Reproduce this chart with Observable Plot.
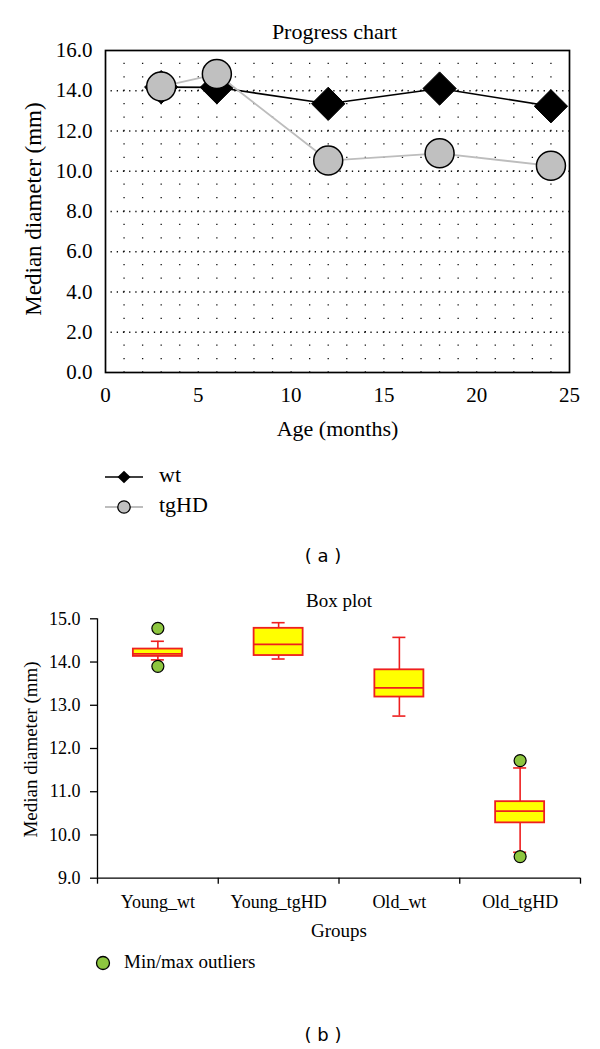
<!DOCTYPE html>
<html>
<head>
<meta charset="utf-8">
<script src="https://cdn.jsdelivr.net/npm/d3@7"></script>
<script src="https://cdn.jsdelivr.net/npm/@observablehq/plot@0.6"></script>
<style>
  html, body { margin: 0; padding: 0; background: #fff; overflow: hidden; }
  #page { position: relative; width: 600px; height: 1049px; background: #fff; overflow: hidden; }
  #page > svg, #page > figure { position: absolute; left: 0; margin: 0; }
</style>
</head>
<body>
<div id="page"></div>
<script>
// ---------- Data: (a) Progress chart ----------
const ages = [3, 6, 12, 18, 24];
const wtMedian = [14.18, 14.17, 13.35, 14.11, 13.23];
const tgHDMedian = [14.21, 14.83, 10.53, 10.89, 10.27];
const yTicksA = [0, 2, 4, 6, 8, 10, 12, 14, 16];
const xTicksA = [0, 5, 10, 15, 20, 25];
const seriesNames = ["wt", "tgHD"];

// ---------- Data: (b) Box plot ----------
const groups = ["Young_wt", "Young_tgHD", "Old_wt", "Old_tgHD"];
const whiskerLow = [14.05, 14.07, 12.75, 9.6];
const q1 = [14.13, 14.15, 13.19, 10.28];
const median = [14.19, 14.41, 13.40, 10.55];
const q3 = [14.30, 14.78, 13.82, 10.77];
const whiskerHigh = [14.48, 14.91, 14.57, 11.55];
const outlierGroups = ["Young_wt", "Young_wt", "Old_tgHD", "Old_tgHD"];
const outlierValues = [14.78, 13.90, 11.72, 9.50];
const yTicksB = [9, 10, 11, 12, 13, 14, 15];

const serif = '"Liberation Serif", "Times New Roman", serif';
const page = document.getElementById("page");

// ---------- Chart (a) ----------
const HA = 445, mtA = 50, mbA = 73;
const wtRows = ages.map((a, i) => ({age: a, value: wtMedian[i]}));
const tgRows = ages.map((a, i) => ({age: a, value: tgHDMedian[i]}));
const gridCols = d3.range(1, 25);
const majorRows = d3.range(2, 16, 2);
const rowPeriod = (HA - mtA - mbA) / 24;
const colPeriod = (600 - 105 - 31) / 25 / 3;

const chartA = Plot.plot({
  width: 600, height: HA,
  marginLeft: 105, marginRight: 31, marginTop: mtA, marginBottom: mbA,
  style: {fontFamily: serif, fontSize: "21px", color: "black", background: "transparent", overflow: "visible"},
  x: {domain: [0, 25]},
  y: {domain: [0, 16]},
  marks: [
    Plot.ruleX(gridCols, {x: d => d, y1: 0, y2: 16, stroke: "#111", strokeWidth: 1.3,
      strokeDasharray: `1.3 ${rowPeriod - 1.3}`, strokeDashoffset: 0.65}),
    Plot.ruleY(majorRows, {y: d => d, x1: 0, x2: 25, stroke: "#111", strokeWidth: 1.3,
      strokeDasharray: `1.3 ${colPeriod - 1.3}`, strokeDashoffset: 0.65}),
    Plot.frame({stroke: "black", strokeWidth: 1.7}),
    Plot.axisY({ticks: yTicksA, tickSize: 0, tickPadding: 13, tickFormat: d => d.toFixed(1), label: null, fontSize: 21}),
    Plot.axisX({ticks: xTicksA, tickSize: 0, tickPadding: 15, tickFormat: d => String(d), label: null, fontSize: 21}),
    Plot.line(wtRows, {x: "age", y: "value", stroke: "black", strokeWidth: 1.6}),
    Plot.dot(wtRows, {x: "age", y: "value", symbol: "diamond2", r: 15, fill: "black", stroke: "black", strokeWidth: 1}),
    Plot.line(tgRows, {x: "age", y: "value", stroke: "#bdbdbd", strokeWidth: 1.8}),
    Plot.dot(tgRows, {x: "age", y: "value", r: 14.5, fill: "#c0c0c0", stroke: "black", strokeWidth: 1.5}),
    Plot.text(["Progress chart"], {text: d => d, frameAnchor: "top", textAnchor: "middle", lineAnchor: "middle", dx: -3, dy: -18.4, fontSize: 22}),
    Plot.text(["Age (months)"], {text: d => d, frameAnchor: "bottom", textAnchor: "middle", lineAnchor: "middle", dy: 56.3, fontSize: 22}),
    Plot.text(["Median diameter (mm)"], {text: d => d, frameAnchor: "left", textAnchor: "middle", lineAnchor: "middle", rotate: -90, dx: -72, dy: -2.5, fontSize: 23})
  ]
});
chartA.style.top = "0px";
page.appendChild(chartA);

// ---------- Chart (b) ----------
const topB = 575, HB = 375;
const boxRows = groups.map((g, i) => ({
  group: g, pos: i + 0.5, lo: whiskerLow[i], q1: q1[i], med: median[i], q3: q3[i], hi: whiskerHigh[i]
}));
const outRows = outlierGroups.map((g, i) => ({pos: groups.indexOf(g) + 0.5, value: outlierValues[i]}));
const boxHalf = 0.203, capHalf = 0.054;
const red = "#ee1f1f";

const chartB = Plot.plot({
  width: 600, height: HB,
  marginLeft: 97, marginRight: 20, marginTop: 618.3 - topB, marginBottom: topB + HB - 877.7,
  style: {fontFamily: serif, fontSize: "18px", color: "black", background: "transparent", overflow: "visible"},
  x: {domain: [0, groups.length]},
  y: {domain: [9, 15]},
  marks: [
    Plot.ruleX([0], {stroke: "black", strokeWidth: 1.3}),
    Plot.ruleY([9], {stroke: "black", strokeWidth: 1.3}),
    Plot.axisY({ticks: yTicksB, tickSize: 7, tickPadding: 10, tickFormat: d => d.toFixed(1), label: null, fontSize: 18, strokeWidth: 1.3}),
    Plot.axisX({ticks: d3.range(0, groups.length + 1), tickSize: 6, tickFormat: () => "", label: null, strokeWidth: 1.3}),
    Plot.axisX({ticks: groups.map((g, i) => i + 0.5), tickSize: 0, tickPadding: 17, tickFormat: d => groups[Math.floor(d)], label: null, fontSize: 18}),
    Plot.ruleX(boxRows, {x: "pos", y1: "lo", y2: "q1", stroke: red, strokeWidth: 1.6}),
    Plot.ruleX(boxRows, {x: "pos", y1: "q3", y2: "hi", stroke: red, strokeWidth: 1.6}),
    Plot.ruleY(boxRows, {y: "hi", x1: d => d.pos - capHalf, x2: d => d.pos + capHalf, stroke: red, strokeWidth: 1.6}),
    Plot.ruleY(boxRows, {y: "lo", x1: d => d.pos - capHalf, x2: d => d.pos + capHalf, stroke: red, strokeWidth: 1.6}),
    Plot.rect(boxRows, {x1: d => d.pos - boxHalf, x2: d => d.pos + boxHalf, y1: "q1", y2: "q3", fill: "#ffff00", stroke: red, strokeWidth: 1.8}),
    Plot.ruleY(boxRows, {y: "med", x1: d => d.pos - boxHalf, x2: d => d.pos + boxHalf, stroke: red, strokeWidth: 1.8}),
    Plot.dot(outRows, {x: "pos", y: "value", r: 6, fill: "#8dc63f", stroke: "black", strokeWidth: 1.2}),
    Plot.text(["Box plot"], {text: d => d, frameAnchor: "top", textAnchor: "middle", lineAnchor: "middle", dy: -17.7, fontSize: 19}),
    Plot.text(["Groups"], {text: d => d, frameAnchor: "bottom", textAnchor: "middle", lineAnchor: "middle", dy: 53, fontSize: 19}),
    Plot.text(["Median diameter (mm)"], {text: d => d, frameAnchor: "left", textAnchor: "middle", lineAnchor: "middle", rotate: -90, dx: -67, dy: 1, fontSize: 19})
  ]
});
chartB.style.top = topB + "px";
page.appendChild(chartB);

// ---------- Legends and captions (overlay) ----------
const ns = "http://www.w3.org/2000/svg";
const ov = document.createElementNS(ns, "svg");
ov.setAttribute("width", 600);
ov.setAttribute("height", 1049);
ov.style.position = "absolute";
ov.style.left = "0px";
ov.style.top = "0px";
ov.style.pointerEvents = "none";
function el(tag, attrs, text) {
  const e = document.createElementNS(ns, tag);
  for (const k in attrs) e.setAttribute(k, attrs[k]);
  if (text != null) e.textContent = text;
  ov.appendChild(e);
  return e;
}
// legend (a)
el("line", {x1: 105, x2: 143, y1: 477, y2: 477, stroke: "black", "stroke-width": 1.6});
el("path", {d: "M124,470.7L130.5,477L124,483.3L117.5,477Z", fill: "black"});
el("text", {x: 159, y: 482.3, "font-family": serif, "font-size": 22}, seriesNames[0]);
el("line", {x1: 105, x2: 143, y1: 507, y2: 507, stroke: "#bdbdbd", "stroke-width": 1.8});
el("circle", {cx: 124, cy: 507, r: 6.2, fill: "#c0c0c0", stroke: "black", "stroke-width": 1.3});
el("text", {x: 159, y: 512.3, "font-family": serif, "font-size": 22}, seriesNames[1]);
el("text", {x: 323, y: 561.7, "text-anchor": "middle", "font-family": '"DejaVu Sans", sans-serif', "font-size": 18}, "( a )");
// legend (b)
el("circle", {cx: 103, cy: 963, r: 6.5, fill: "#8dc63f", stroke: "black", "stroke-width": 1.3});
el("text", {x: 124, y: 968, "font-family": serif, "font-size": 19}, "Min/max outliers");
el("text", {x: 323, y: 1041, "text-anchor": "middle", "font-family": '"DejaVu Sans", sans-serif', "font-size": 18}, "( b )");
page.appendChild(ov);
</script>
</body>
</html>
